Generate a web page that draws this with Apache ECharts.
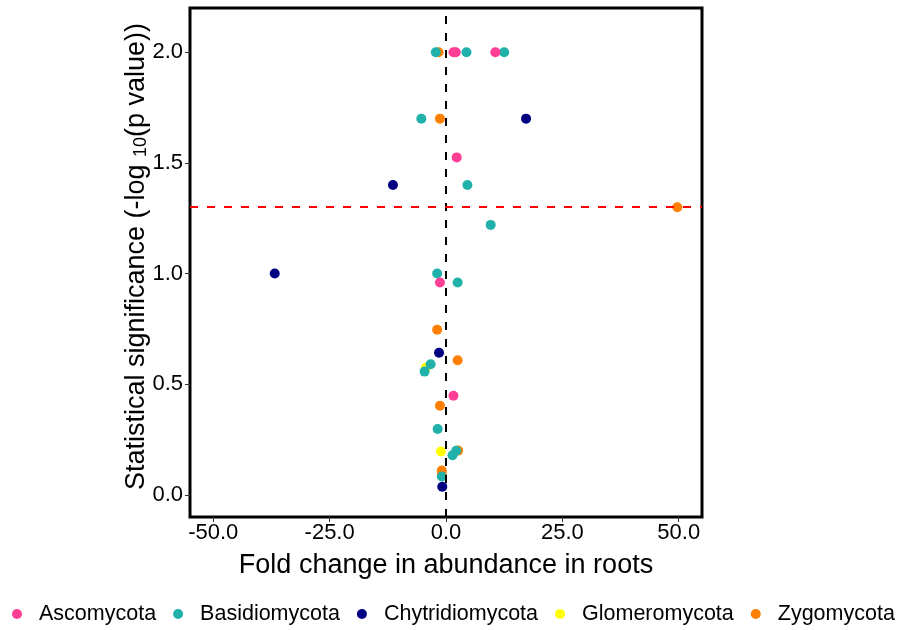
<!DOCTYPE html>
<html>
<head>
<meta charset="utf-8">
<script src="https://cdn.jsdelivr.net/npm/echarts@6/dist/echarts.min.js"></script>
<style>
html,body{margin:0;padding:0;background:#fff;}
#chart{width:901px;height:630px;}
</style>
</head>
<body>
<div id="chart"></div>
<script>
// ---- data (fold change, -log10 p) ----
var phyla = ['Ascomycota', 'Basidiomycota', 'Chytridiomycota', 'Glomeromycota', 'Zygomycota'];
var ascomycota = [[1.6,2.0],[2.1,2.0],[10.6,2.0],[2.3,1.525],[-1.3,0.96],[1.6,0.448]];
var basidiomycota = [[-2.2,2.0],[4.4,2.0],[12.5,2.0],[-5.3,1.70],[4.6,1.40],[9.6,1.22],[-1.9,1.00],[2.5,0.96],[-3.3,0.59],[-4.6,0.557],[-1.8,0.298],[2.2,0.199],[1.4,0.179],[-0.9,0.083]];
var chytridiomycota = [[17.2,1.70],[-11.4,1.40],[-36.8,1.0],[-1.5,0.642],[-0.8,0.037]];
var glomeromycota = [[-4.3,0.575],[-1.1,0.196]];
var zygomycota = [[-1.6,2.0],[-1.3,1.70],[49.7,1.30],[-1.9,0.746],[2.5,0.608],[-1.3,0.403],[2.6,0.2],[-0.9,0.11],[-0.9,0.093]];
var xTicks = [-50, -25, 0, 25, 50];
var yTicks = [0, 0.5, 1.0, 1.5, 2.0];
var pThreshold = 1.301; // -log10(0.05)
var foldZero = 0;

var colors = {
  Ascomycota: '#FF3E96',
  Basidiomycota: '#20B2AA',
  Chytridiomycota: '#000080',
  Glomeromycota: '#FFFF00',
  Zygomycota: '#FF7F00'
};
var seriesData = {
  Ascomycota: ascomycota,
  Basidiomycota: basidiomycota,
  Chytridiomycota: chytridiomycota,
  Glomeromycota: glomeromycota,
  Zygomycota: zygomycota
};
var FONT = '"Liberation Sans", Arial, sans-serif';
var drawOrder = ['Zygomycota', 'Glomeromycota', 'Basidiomycota', 'Ascomycota', 'Chytridiomycota'];

var series = drawOrder.map(function (name) {
  return {
    name: name,
    type: 'scatter',
    symbol: 'circle',
    symbolSize: 10,
    itemStyle: { color: colors[name], opacity: 1 },
    data: seriesData[name],
    z: 3
  };
});
series.push({
  type: 'scatter',
  data: [],
  silent: true,
  z: 2,
  markLine: {
    silent: true,
    symbol: ['none', 'none'],
    label: { show: false },
    animation: false,
    data: [
      { xAxis: foldZero, lineStyle: { color: '#000', width: 2, type: [8, 9] } },
      { yAxis: pThreshold, lineStyle: { color: '#FF0000', width: 2, type: [8, 9] } }
    ]
  }
});

var chart = echarts.init(document.getElementById('chart'), null, { renderer: 'canvas' });
chart.setOption({
  animation: false,
  backgroundColor: '#fff',
  color: phyla.map(function (p) { return colors[p]; }),
  grid: {
    left: 190, top: 8, width: 512, height: 509,
    show: true, borderColor: '#000', borderWidth: 3, backgroundColor: 'transparent'
  },
  legend: {
    data: phyla,
    left: 12,
    top: 603,
    width: 889,
    padding: 0,
    icon: 'circle',
    itemWidth: 10,
    itemHeight: 10,
    itemGap: 17,
    textStyle: { fontFamily: FONT, fontSize: 21.5, color: '#000', padding: [0, 0, 0, 12] }
  },
  xAxis: {
    type: 'value',
    min: -55, max: 55,
    name: 'Fold change in abundance in roots',
    nameLocation: 'middle',
    nameGap: 35,
    nameMoveOverlap: false,
    nameTextStyle: { fontFamily: FONT, fontSize: 27, color: '#000' },
    axisLine: { show: false, onZero: false },
    splitLine: { show: false },
    axisTick: { show: true, length: 5, customValues: xTicks, lineStyle: { color: '#333', width: 1 } },
    axisLabel: {
      customValues: xTicks, margin: 5,
      fontFamily: FONT, fontSize: 22, color: '#000',
      formatter: function (v) { return v.toFixed(1); }
    }
  },
  yAxis: {
    type: 'value',
    min: -0.1, max: 2.2,
    name: '{a|Statistical significance (-log }{s|10}{a|(p value))}',
    nameLocation: 'middle',
    nameRotate: 90,
    nameGap: 40,
    nameMoveOverlap: false,
    nameTextStyle: {
      fontFamily: FONT, fontSize: 27, color: '#000',
      padding: [0, 0, 0, 12],
      rich: {
        a: { fontFamily: FONT, fontSize: 27, color: '#000', lineHeight: 30, verticalAlign: 'bottom' },
        s: { fontFamily: FONT, fontSize: 18, color: '#000', lineHeight: 30, verticalAlign: 'bottom', padding: [8, 0, 0, 0] }
      }
    },
    axisLine: { show: false, onZero: false },
    splitLine: { show: false },
    axisTick: { show: true, length: 5, customValues: yTicks, lineStyle: { color: '#333', width: 1 } },
    axisLabel: {
      customValues: yTicks, margin: 7,
      fontFamily: FONT, fontSize: 22, color: '#000',
      formatter: function (v) { return v.toFixed(1); }
    }
  },
  series: series
});
</script>
</body>
</html>
